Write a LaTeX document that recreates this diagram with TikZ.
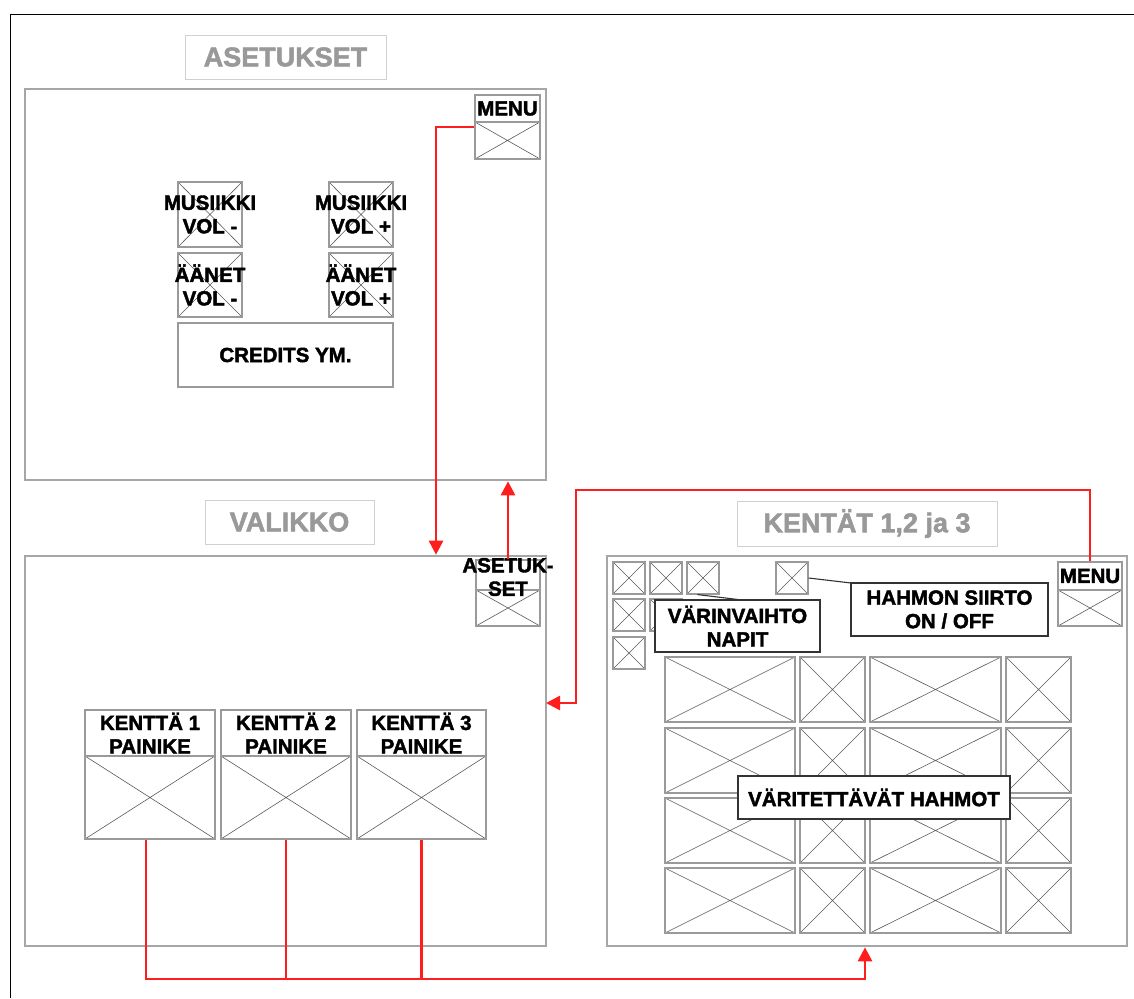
\documentclass[tikz,border=0pt]{standalone}
\usepackage{fontspec}
\setmainfont{Liberation Sans}[BoldFeatures={FakeBold=2}]
\usetikzlibrary{arrows.meta,calc}
\definecolor{panelgray}{HTML}{A6A6A6}
\definecolor{titleedge}{HTML}{D0D0D0}
\definecolor{titletext}{HTML}{999999}
\definecolor{boxgray}{HTML}{9A9A9A}
\definecolor{diaggray}{HTML}{5A5A5A}
\definecolor{calloutedge}{HTML}{333333}
\definecolor{linered}{HTML}{FF1E1E}
\newcommand\labfont{\fontsize{20.5}{23.5}\selectfont\bfseries}
\newcommand\ttlfont{\fontsize{27}{30}\selectfont\bfseries}
% \boxat[style]{name}{x1}{y1}{x2}{y2}{text}
\newcommand\boxat[7][]{\node[inner sep=0pt, minimum width={#5-#3}, minimum height={#6-#4}, #1] (#2) at ({(#3+#5)/2},{(#4+#6)/2}) {#7};}
\tikzset{
  panel/.style={draw=panelgray, line width=2.6pt, fill=white},
  titlebox/.style={draw=titleedge, line width=0.9pt, font=\ttlfont, text=titletext},
  xbox/.style={draw=boxgray, line width=1.1pt, fill=white,
    path picture={\draw[diaggray, line width=0.6pt]
      (path picture bounding box.north west) -- (path picture bounding box.south east)
      (path picture bounding box.south west) -- (path picture bounding box.north east);}},
  hdr/.style={draw=boxgray, line width=1.1pt, fill=white, font=\labfont, align=center},
  lbl/.style={font=\labfont, align=center, inner sep=0pt},
  callout/.style={draw=calloutedge, line width=1.3pt, fill=white, font=\labfont, align=center},
  leader/.style={draw=calloutedge, line width=1.1pt},
  redline/.style={draw=linered, line width=2.7pt},
  redarrow/.style={redline, -{Triangle[length=14pt,width=14pt]}},
}
\begin{document}
\begin{tikzpicture}[x=1pt,y=-1pt]
\useasboundingbox (0,0) rectangle (1134,998);
% outer frame (clipped on right and bottom)
\draw[black, line width=1pt] (10,998) -- (10,15) -- (1134,15);

% ---------- ASETUKSET ----------
\boxat[titlebox]{tAset}{185}{35}{386}{79}{ASETUKSET}
\boxat[panel]{asetukset}{25}{89}{546}{480}{}
\boxat[hdr]{menuAh}{475}{95}{540}{122}{MENU}
\boxat[xbox]{menuAx}{475}{122}{540}{159}{}
\boxat[xbox]{mvm}{178}{182}{242}{247}{}
\boxat[xbox]{mvp}{329}{182}{393}{247}{}
\boxat[xbox]{avm}{178}{253}{242}{317}{}
\boxat[xbox]{avp}{329}{253}{393}{317}{}
\node[lbl] (mvmL) at (mvm) {MUSIIKKI\\VOL -};
\node[lbl] (mvpL) at (mvp) {MUSIIKKI\\VOL +};
\node[lbl] (avmL) at (avm) {ÄÄNET\\VOL -};
\node[lbl] (avpL) at (avp) {ÄÄNET\\VOL +};
\boxat[hdr]{credits}{178}{323}{393}{387}{CREDITS YM.}

% ---------- VALIKKO ----------
\boxat[titlebox]{tVal}{205}{500}{374}{544}{VALIKKO}
\boxat[panel]{valikko}{25}{556}{546}{946}{}
\boxat[hdr]{asetH}{476}{560}{540}{590}{}
\boxat[xbox]{asetX}{476}{590}{540}{626}{}
\node[lbl] (asetL) at (508,577) {ASETUK-\\SET};
\boxat[hdr]{kA}{85}{710}{215}{756}{KENTTÄ 1\\PAINIKE}
\boxat[xbox]{kAx}{85}{756}{215}{839}{}
\boxat[hdr]{kB}{221}{710}{351}{756}{KENTTÄ 2\\PAINIKE}
\boxat[xbox]{kBx}{221}{756}{351}{839}{}
\boxat[hdr]{kC}{357}{710}{486}{756}{KENTTÄ 3\\PAINIKE}
\boxat[xbox]{kCx}{357}{756}{486}{839}{}

% ---------- KENTÄT ----------
\boxat[titlebox]{tKen}{737}{501}{997}{546}{KENTÄT 1,2 ja 3}
\boxat[panel]{kentat}{607}{556}{1127}{946}{}
\boxat[hdr]{menuBh}{1058}{562}{1122}{590}{MENU}
\boxat[xbox]{menuBx}{1058}{590}{1122}{626}{}
\boxat[xbox]{sA}{613}{562}{645}{594}{}
\boxat[xbox]{sB}{650}{562}{682}{594}{}
\boxat[xbox]{sC}{687}{562}{719}{594}{}
\boxat[xbox]{sD}{613}{599}{645}{631}{}
\boxat[xbox]{sE}{650}{599}{682}{631}{}
\boxat[xbox]{sF}{613}{637}{645}{669}{}
\boxat[xbox]{hs}{776}{562}{808}{594}{}
% grid of shapes
\boxat[xbox]{gAa}{665}{657}{795}{722}{}
\boxat[xbox]{gAb}{800}{657}{865}{722}{}
\boxat[xbox]{gAc}{870}{657}{1001}{722}{}
\boxat[xbox]{gAd}{1006}{657}{1071}{722}{}
\boxat[xbox]{gBa}{665}{728}{795}{793}{}
\boxat[xbox]{gBb}{800}{728}{865}{793}{}
\boxat[xbox]{gBc}{870}{728}{1001}{793}{}
\boxat[xbox]{gBd}{1006}{728}{1071}{793}{}
\boxat[xbox]{gCa}{665}{798}{795}{863}{}
\boxat[xbox]{gCb}{800}{798}{865}{863}{}
\boxat[xbox]{gCc}{870}{798}{1001}{863}{}
\boxat[xbox]{gCd}{1006}{798}{1071}{863}{}
\boxat[xbox]{gDa}{665}{868}{795}{933}{}
\boxat[xbox]{gDb}{800}{868}{865}{933}{}
\boxat[xbox]{gDc}{870}{868}{1001}{933}{}
\boxat[xbox]{gDd}{1006}{868}{1071}{933}{}
% callouts
\draw[leader] ([xshift=11pt]sC.south west) -- (742,600);
\boxat[callout]{varin}{655}{600}{820}{652}{VÄRINVAIHTO\\NAPIT}
\draw[leader] (hs.east) -- (851,583);
\boxat[callout]{hahmon}{851}{583}{1048}{636}{HAHMON SIIRTO\\ON / OFF}
\boxat[callout]{varit}{738}{776}{1010}{819}{VÄRITETTÄVÄT HAHMOT}

% ---------- red connectors ----------
\coordinate (bendA) at (436,127);
\draw[redarrow] ([yshift=13.5pt]menuAx.west) -- (bendA) -- (bendA |- valikko.north);
\draw[redarrow] (asetH.north) -- (asetH.north |- asetukset.south);
\coordinate (bendB) at (576,490);
\coordinate (valIn) at (546,703);
\draw[redarrow] (menuBh.north) |- (bendB) |- (valIn);
\coordinate (bottomR) at (865,979);
\draw[redarrow] ([xshift=-4pt]kAx.south) |- (bottomR) -- (bottomR |- kentat.south);
\draw[redline] (kBx.south) -- (kBx.south |- bottomR);
\draw[redline] (kCx.south) -- (kCx.south |- bottomR);
\end{tikzpicture}
\end{document}
